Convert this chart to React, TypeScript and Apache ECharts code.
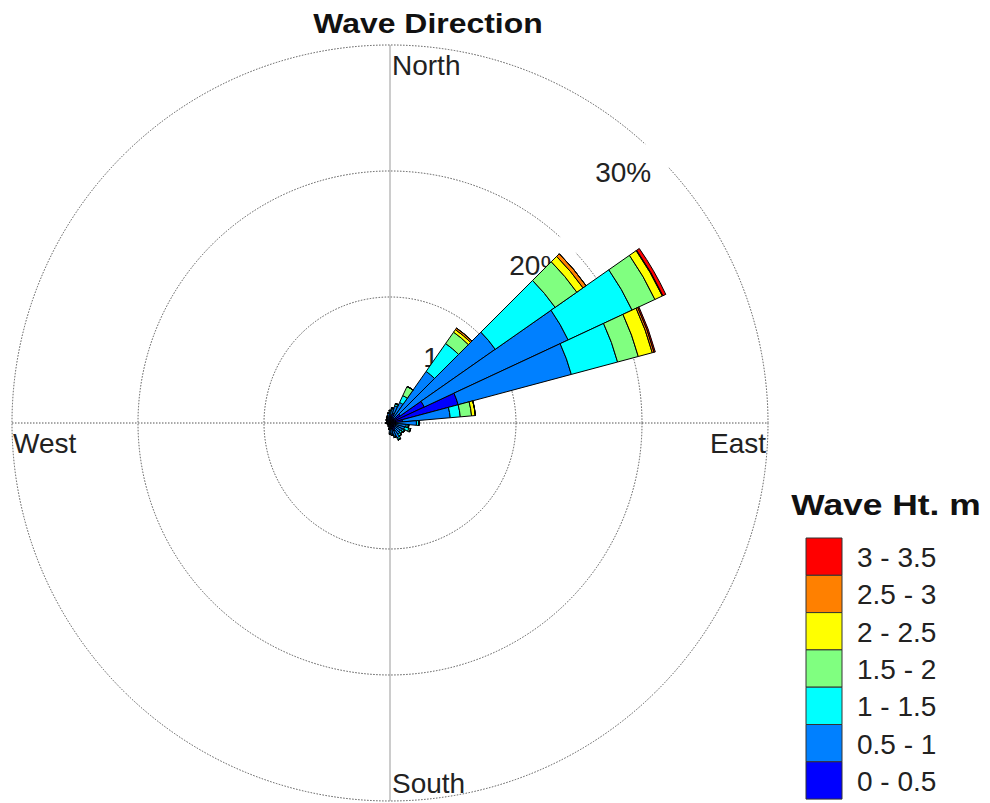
import React, { useEffect, useRef } from "react";
import * as echarts from "echarts";

const directions = ["0","10","20","30","40","50","60","70","80","90","100","110","120","130","140","150","160","170","180","190","200","210","220","230","240","250","260","270","280","290","300","310","320","330","340","350"];

const binNames = ["0 - 0.5", "0.5 - 1", "1 - 1.5", "1.5 - 2", "2 - 2.5", "2.5 - 3", "3 - 3.5"];
const binColors = ["#0000ff", "#0080ff", "#00ffff", "#80ff80", "#ffff00", "#ff8000", "#ff0000"];

const h00_05 = [0.6,0.7,0.8,0.5,0.5,1.0,3.0,5.6,1.0,0.5,0.5,0.4,0.5,0.5,0.6,0.7,0.6,0.5,0.5,0.3,0.2,0.2,0.15,0.15,0.15,0.15,0.2,0.2,0.2,0.2,0.2,0.25,0.25,0.3,0.35,0.45];
const h05_10 = [0.3,0.4,0.6,1.3,4.5,9.2,12.6,9.3,3.8,1.6,0.8,0.8,0.6,0.5,0.5,0.6,0.5,0.4,0.3,0.2,0.1,0.1,0.05,0.05,0.05,0.05,0.1,0.1,0.1,0.1,0.1,0.15,0.15,0.2,0.25,0.35];
const h10_15 = [0.1,0.1,0.15,0.6,2.7,5.8,5.6,3.8,0.8,0.2,0.15,0.35,0.15,0.15,0.15,0.15,0.1,0.1,0.1,0,0,0,0,0,0,0,0,0,0,0,0,0,0,0,0,0];
const h15_20 = [0,0,0.05,0.8,1.1,2.1,2.0,1.7,0.9,0,0.05,0.15,0.05,0.05,0.05,0.05,0,0,0,0,0,0,0,0,0,0,0,0,0,0,0,0,0,0,0,0];
const h20_25 = [0,0,0,0,0.25,0.6,0.65,1.15,0.3,0,0,0,0,0,0,0,0,0,0,0,0,0,0,0,0,0,0,0,0,0,0,0,0,0,0,0];
const h25_30 = [0,0,0,0,0.15,0.3,0.05,0.15,0,0,0,0,0,0,0,0,0,0,0,0,0,0,0,0,0,0,0,0,0,0,0,0,0,0,0,0];
const h30_35 = [0,0,0,0,0,0,0.25,0.1,0,0,0,0,0,0,0,0,0,0,0,0,0,0,0,0,0,0,0,0,0,0,0,0,0,0,0,0];

const seriesValues = [h00_05, h05_10, h10_15, h15_20, h20_25, h25_30, h30_35];

const radiusTicks = [10, 20, 30];
const radiusLabels = ["10%", "20%", "30%"];
const compassLabels = ["North", "East", "South", "West"];

const CX = 390;
const CY = 423;
const R = 378;
const RMAX = 30;
const FONT = "'Liberation Sans', Arial, Helvetica, sans-serif";

export default function App() {
  const ref = useRef<HTMLDivElement>(null);
  useEffect(() => {
    if (!ref.current) return;
    const chart = echarts.init(ref.current, null, { renderer: "svg" });

    const gapArcs = [20, 30].map((v) => {
      const r = (R * v) / RMAX;
      const a0 = ((42.5 - 90) * Math.PI) / 180;
      const a1 = ((47.5 - 90) * Math.PI) / 180;
      return {
        type: "arc",
        z: 1,
        shape: { cx: CX, cy: CY, r, startAngle: a0, endAngle: a1, clockwise: true },
        style: { stroke: "#ffffff", lineWidth: 4, fill: "none" },
      };
    });

    const pctLabels = radiusTicks.map((v, i) => {
      const r = (R * v) / RMAX - 36;
      const b = ((43 - 90) * Math.PI) / 180;
      return {
        type: "text",
        z: 1,
        x: CX + r * Math.cos(b),
        y: CY + r * Math.sin(b),
        style: {
          text: radiusLabels[i],
          font: `28px ${FONT}`,
          fill: "#222",
          align: "center",
          verticalAlign: "middle",
        },
      };
    });

    const compassPos = [
      { x: 392, y: 65, align: "left" },
      { x: 766, y: 443, align: "right" },
      { x: 392, y: 783, align: "left" },
      { x: 13, y: 443, align: "left" },
    ];
    const compassTexts = compassLabels.map((t, i) => ({
      type: "text",
      z: 1,
      x: compassPos[i].x,
      y: compassPos[i].y,
      style: {
        text: t,
        font: `28px ${FONT}`,
        fill: "#222",
        align: compassPos[i].align,
        verticalAlign: "middle",
      },
    }));

    const LX = 806;
    const LY = 538;
    const LW = 36;
    const LH = 37.3;
    const legendItems: any[] = [];
    const order = binNames.map((_, i) => binNames.length - 1 - i);
    order.forEach((bi, row) => {
      legendItems.push({
        type: "rect",
        shape: { x: LX, y: LY + row * LH, width: LW, height: LH },
        style: { fill: binColors[bi], stroke: "#333", lineWidth: 1 },
      });
      legendItems.push({
        type: "text",
        x: 857,
        y: LY + row * LH + LH / 2 + 1,
        style: {
          text: binNames[bi],
          font: `28px ${FONT}`,
          fill: "#222",
          align: "left",
          verticalAlign: "middle",
        },
      });
    });

    const option: any = {
      animation: false,
      backgroundColor: "#ffffff",
      polar: { center: [CX, CY], radius: R },
      angleAxis: {
        type: "category",
        data: directions,
        startAngle: 95,
        clockwise: true,
        boundaryGap: true,
        axisLine: { show: false },
        axisTick: { show: false },
        axisLabel: { show: false },
        splitLine: { show: false },
      },
      radiusAxis: {
        type: "value",
        min: 0,
        max: RMAX,
        interval: 10,
        axisLine: { show: false },
        axisTick: { show: false },
        axisLabel: { show: false },
        splitLine: { show: true, lineStyle: { color: "#555", width: 1, type: [1.5, 1.5] } },
      },
      graphic: [
        {
          type: "line",
          z: 1,
          shape: { x1: CX, y1: CY - R, x2: CX, y2: CY + R },
          style: { stroke: "#999", lineWidth: 1 },
        },
        {
          type: "line",
          z: 1,
          shape: { x1: CX - R, y1: CY, x2: CX + R, y2: CY },
          style: { stroke: "#555", lineWidth: 1, lineDash: [1.5, 1.5] },
        },
        ...gapArcs,
        ...pctLabels,
        ...compassTexts,
        ...legendItems,
        {
          type: "text",
          x: 428,
          y: 23,
          scaleX: 1.14,
          style: {
            text: "Wave Direction",
            font: `bold 28px ${FONT}`,
            fill: "#111",
            align: "center",
            verticalAlign: "middle",
          },
        },
        {
          type: "text",
          x: 886,
          y: 504,
          scaleX: 1.18,
          style: {
            text: "Wave Ht. m",
            font: `bold 30px ${FONT}`,
            fill: "#111",
            align: "center",
            verticalAlign: "middle",
          },
        },
      ],
      series: seriesValues.map((vals, i) => ({
        type: "bar",
        name: binNames[i],
        coordinateSystem: "polar",
        stack: "wave",
        data: vals,
        barCategoryGap: "0%",
        z: 2,
        itemStyle: { color: binColors[i], borderColor: "#000", borderWidth: 1 },
      })),
    };
    chart.setOption(option);
    return () => chart.dispose();
  }, []);
  return (
    <div
      ref={ref}
      style={{ position: "fixed", left: 0, top: 0, width: 990, height: 803 }}
    />
  );
}
